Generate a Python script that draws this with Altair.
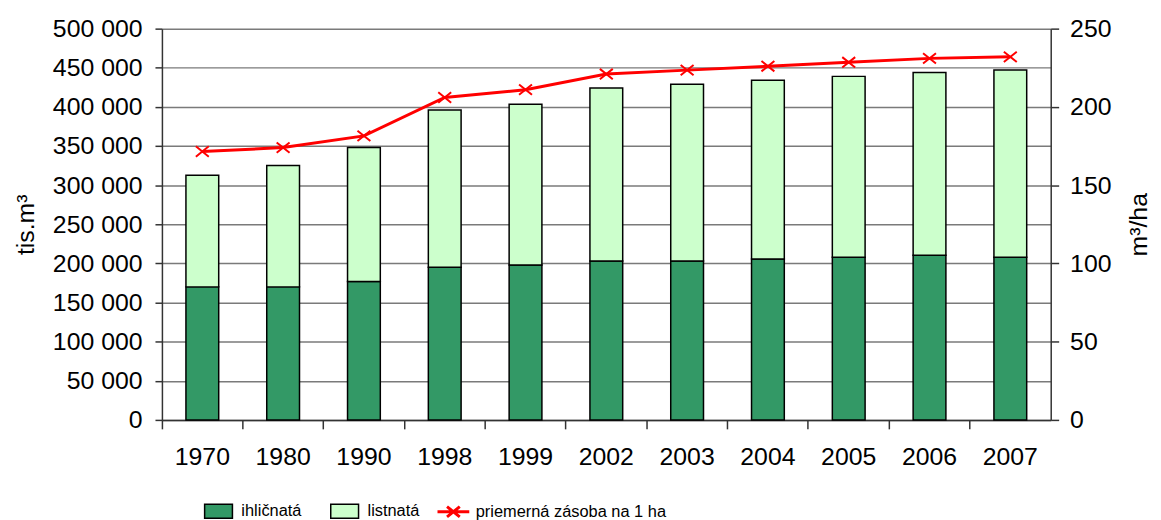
import altair as alt
import pandas as pd

roky = ["1970", "1980", "1990", "1998", "1999", "2002", "2003", "2004", "2005", "2006", "2007"]
ihlicnata = [170000, 170000, 177000, 195000, 198000, 203000, 203000, 205500, 208000, 210500, 208000]
listnata = [142500, 155000, 171000, 201000, 205500, 221000, 226000, 228500, 231000, 233500, 239000]
zasoba = [171.5, 174, 181.5, 206, 211, 221, 223.5, 226, 228.5, 231, 232]
druhy = ["ihličnatá", "listnatá"]
farby = ["#339966", "#CCFFCC"]
nazov_ciary = "priemerná zásoba na 1 ha"
lave_ticky = [0, 50000, 100000, 150000, 200000, 250000, 300000, 350000, 400000, 450000, 500000]
prave_ticky = [0, 50, 100, 150, 200, 250]

rows = []
for i, r in enumerate(roky):
    rows.append({"rok": r, "druh": druhy[0], "hodnota": ihlicnata[i], "poradie": 0})
    rows.append({"rok": r, "druh": druhy[1], "hodnota": listnata[i], "poradie": 1})
df_bars = pd.DataFrame(rows)
df_line = pd.DataFrame({"rok": roky, "zasoba": zasoba, "nazov": [nazov_ciary] * len(roky)})

FONT = "Liberation Sans"
LEG_FONT = "Liberation Sans"
LEG_SIZE = 16.5

x_enc = alt.X(
    "rok:N", sort=roky, title=None,
    scale=alt.Scale(paddingInner=0, paddingOuter=0),
    axis=alt.Axis(labelAngle=0, tickSize=9, labelPadding=16, bandPosition=0, grid=False),
)

bars = alt.Chart(df_bars).mark_bar(size=33, stroke="black", strokeWidth=1.5).encode(
    x=x_enc,
    y=alt.Y(
        "hodnota:Q", stack="zero",
        scale=alt.Scale(domain=[0, 500000], nice=False),
        axis=alt.Axis(
            title="tis.m³", values=lave_ticky, grid=True, tickSize=7, labelPadding=13,
            titlePadding=14,
            labelExpr="replace(format(datum.value, ','), ',', ' ')",
        ),
    ),
    fill=alt.Fill(
        "druh:N",
        scale=alt.Scale(domain=druhy, range=farby),
        legend=alt.Legend(
            orient="none", legendX=42, legendY=471, direction="horizontal", title=None,
            symbolType="M-1,-0.5H1V0.5H-1Z", symbolSize=784,
            symbolStrokeColor="black", symbolStrokeWidth=1.5,
            labelFont=LEG_FONT, labelFontSize=LEG_SIZE, labelOffset=8, columnPadding=26,
            padding=0, labelColor="black", labelLimit=500,
        ),
    ),
    order=alt.Order("poradie:Q"),
)

y_right = alt.Y(
    "zasoba:Q",
    scale=alt.Scale(domain=[0, 250], nice=False),
    axis=alt.Axis(
        orient="right", title="m³/ha", titleAngle=270, titleBaseline="top",
        values=prave_ticky, grid=False, tickSize=8, labelPadding=11, titlePadding=16,
    ),
)

line = alt.Chart(df_line).mark_line(strokeWidth=3).encode(
    x=alt.X("rok:N", sort=roky),
    y=y_right,
    stroke=alt.Stroke(
        "nazov:N",
        scale=alt.Scale(domain=[nazov_ciary], range=["#FF0000"]),
        legend=alt.Legend(
            orient="none", legendX=276, legendY=469, title=None,
            symbolType="M-1,0H1M-0.4,-0.32L0.4,0.32M-0.4,0.32L0.4,-0.32",
            symbolSize=1024, symbolStrokeWidth=3, symbolFillColor="transparent",
            labelFont=LEG_FONT, labelFontSize=LEG_SIZE, labelOffset=5, padding=0,
            labelColor="black", labelLimit=500,
        ),
    ),
)

points = alt.Chart(df_line).mark_point(
    shape="M-1,-0.8L1,0.8M-1,0.8L1,-0.8", size=169, strokeWidth=2,
    filled=False, color="#FF0000", opacity=1,
).encode(
    x=alt.X("rok:N", sort=roky),
    y=y_right,
)

right = alt.layer(line, points)

chart = alt.layer(bars, right).resolve_scale(y="independent").properties(
    width=895, height=394,
    autosize=alt.AutoSizeParams(type="none"),
    padding={"left": 155, "top": 19, "right": 103, "bottom": 99},
    background="white",
).configure_axis(
    labelFont=FONT, titleFont=FONT, labelFontSize=25, titleFontSize=25,
    titleFontWeight="normal", labelColor="black", titleColor="black",
    domainColor="#333333", tickColor="#333333", domainWidth=1.5, tickWidth=1.5,
    gridColor="#7a7a7a", gridWidth=1.5,
).configure_view(stroke="transparent")

chart.save("out.html", embed_options={"renderer": "svg", "actions": False})
